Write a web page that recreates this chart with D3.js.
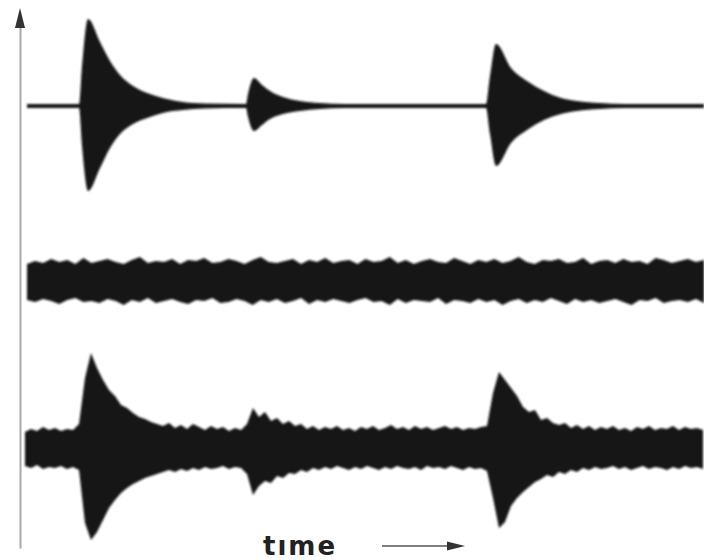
<!DOCTYPE html>
<html>
<head>
<meta charset="utf-8">
<script src="https://cdn.jsdelivr.net/npm/d3@7"></script>
<style>
 body { margin:0; background:#fff; }
 svg { display:block; }
</style>
</head>
<body>
<div id="chart"></div>
<script>
// ---- data (time in sample units, amplitude in signal units) ----
// top trace: clean bursts, envelope key points
var topTime  = [3, 55, 58, 64, 76, 86, 96, 109, 126, 143, 159, 181, 222, 224, 230, 238, 246, 259, 276, 296, 321, 462, 466, 472, 487, 503, 520, 537, 553, 576, 601, 680];
var topUpper = [2, 2, 40, 87, 64, 45, 31, 20, 12, 7, 4, 2.5, 2, 12, 28, 21, 15, 9, 5, 3, 2, 2, 30, 62, 38, 25, 15, 8, 5, 3, 2, 2];
var topLower = [2, 2, 40, 85, 62, 42, 28, 18, 11, 6, 4, 2.5, 2, 11, 25, 19, 13, 8, 5, 3, 2, 2, 28, 60, 37, 24, 14, 8, 5, 3, 2, 2];

// middle trace: background noise only
var midUpper = [17,20,18,22,19,21,17,23,18,20, 22,19,17,21,24,18,20,19,22,17, 21,20,23,18,19,22,20,17,21,24,
                19,18,20,22,17,21,19,23,18,20, 21,17,22,19,20,24,18,21,17,20, 22,19,18,23,20,17,21,19,22,18,
                20,24,19,17,21,20,22,18,19,23, 17,20,21,18,22,19,20,17,23,21, 18,20,22,19,21];
var midLower = [19,21,18,20,23,19,17,21,20,22, 18,20,24,19,21,17,22,20,18,21, 23,19,20,17,22,21,18,20,24,19,
                21,18,22,20,17,23,19,21,18,20, 22,19,17,21,20,24,18,22,19,20, 21,17,23,19,20,22,18,21,19,24,
                20,18,22,19,21,17,20,23,18,21, 19,22,20,18,21,24,19,20,17,22, 20,19,21,18,22];

// bottom trace: bursts buried in noise
var botUpper = [16,19,17,21,18,20,17,19,18,24, 70,95,80,68,58,52,43,40,35,31, 29,26,24,22,25,20,23,19,24,21,
                18,22,19,21,17,20,18,24,40,31, 36,27,30,24,27,22,24,19,22,18, 21,19,22,18,20,17,21,19,22,18,
                20,23,19,21,18,22,19,21,18,20, 22,19,21,18,20,19,21,22,55,76, 68,60,52,41,36,38,28,30,25,23,
                25,20,23,19,22,18,21,19,22,18, 20,17,21,19,22,18,20,19,22,18, 21,19,20,18];
var botLower = [18,20,17,21,19,20,18,21,19,22, 75,92,84,72,60,52,45,40,36,33, 30,28,26,24,22,24,21,23,20,22,
                19,21,20,18,21,19,20,26,47,38, 33,35,28,30,25,26,22,24,20,22, 19,21,18,20,22,19,21,18,20,22,
                19,21,18,20,21,19,22,18,20,19, 21,18,20,22,19,21,20,23,50,80, 74,58,50,44,39,34,31,27,29,24,
                26,22,24,20,22,19,21,20,18,21, 19,22,20,18,21,19,20,22,19,21, 18,20,19,21];

var traceNames = ["signal", "noise", "signal + noise"];
var xLabel = "tıme";

// ---- layout ----
var W = 704, H = 560;
var svg = d3.select("#chart").append("svg")
    .attr("width", W)
    .attr("height", H);

// slight blur so edges look like the scanned figure
svg.append("defs").append("filter")
    .attr("id", "soft")
    .append("feGaussianBlur")
    .attr("stdDeviation", 0.8);

var x = d3.scaleLinear().domain([0, 680]).range([24, 704]);
var amp = d3.scaleLinear().domain([-100, 100]).range([100, -100]); // relative to each trace's baseline
var baselines = [106, 281, 448];

function build(time, upper, lower) {
    return time.map(function (t, i) { return { t: t, up: upper[i], lo: lower[i] }; });
}
var midTime = midUpper.map(function (d, i) { return 3 + i * 677 / (midUpper.length - 1); });
var botTime = botUpper.map(function (d, i) { return 1 + i * 6; });

var traces = [
    { data: build(topTime, topUpper, topLower), curve: d3.curveMonotoneX },
    { data: build(midTime, midUpper, midLower), curve: d3.curveLinear },
    { data: build(botTime, botUpper, botLower), curve: d3.curveLinear }
];

var area = function (curve) {
    return d3.area()
        .x(function (d) { return x(d.t); })
        .y0(function (d) { return amp(-d.lo); })
        .y1(function (d) { return amp(d.up); })
        .curve(curve);
};

var g = svg.selectAll("g.trace")
    .data(traces)
    .enter()
    .append("g")
    .attr("class", "trace")
    .attr("transform", function (d, i) { return "translate(0," + baselines[i] + ")"; })
    .attr("filter", "url(#soft)");

g.append("path")
    .attr("d", function (d) { return area(d.curve)(d.data); })
    .attr("fill", "#161616")
    .append("title")
    .text(function (d, i) { return traceNames[i]; });

// ---- vertical axis with arrow ----
var yAxisScale = d3.scaleLinear().domain([0, 1]).range([548, 26]);
var yAxis = svg.append("g")
    .attr("transform", "translate(20,0)")
    .call(d3.axisLeft(yAxisScale).tickValues([]).tickSizeOuter(0));
yAxis.select(".domain")
    .attr("stroke", "#aaa")
    .attr("stroke-width", 2);
svg.append("path")
    .attr("d", "M20,8 L15,28 L25,28 Z")
    .attr("fill", "#333");

// ---- time label with arrow ----
svg.append("text")
    .attr("x", 263)
    .attr("y", 555)
    .attr("font-family", "DejaVu Sans")
    .attr("font-weight", "bold")
    .attr("font-size", 26)
    .attr("letter-spacing", 2)
    .attr("fill", "#222")
    .text(xLabel);
svg.append("line")
    .attr("x1", 382).attr("x2", 452)
    .attr("y1", 546).attr("y2", 546)
    .attr("stroke", "#555")
    .attr("stroke-width", 1.5);
svg.append("path")
    .attr("d", "M447,541.5 L465,546 L447,550.5 Z")
    .attr("fill", "#333");
</script>
</body>
</html>
